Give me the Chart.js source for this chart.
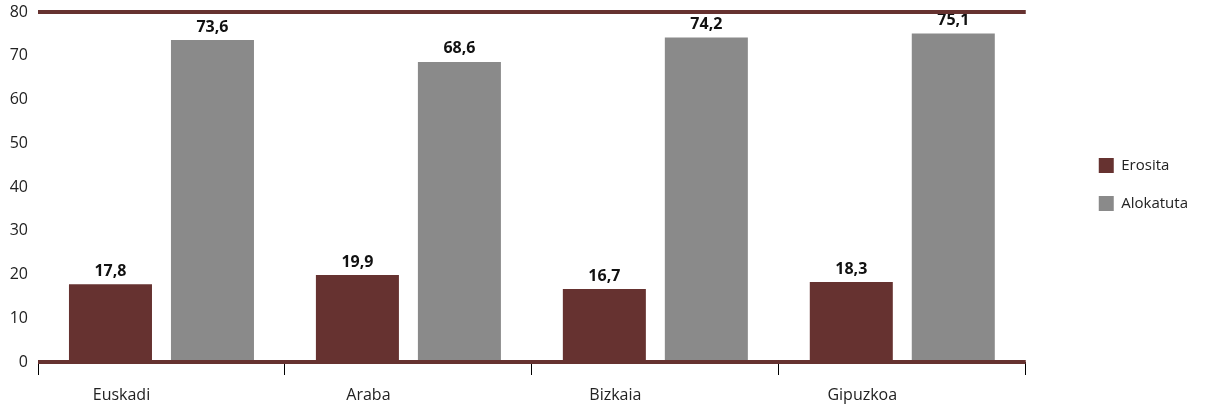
<!DOCTYPE html>
<html>
<head>
<meta charset="utf-8">
<script src="https://cdn.jsdelivr.net/npm/chart.js@4.4.1/dist/chart.umd.min.js"></script>
<style>
  html, body { margin: 0; padding: 0; background: #ffffff; }
  #wrap { width: 1206px; height: 406px; }
</style>
</head>
<body>
<div id="wrap"><canvas id="c" width="1206" height="406"></canvas></div>
<script>
const categories = ["Euskadi", "Araba", "Bizkaia", "Gipuzkoa"];
const erosita = [17.8, 19.9, 16.7, 18.3];
const alokatuta = [73.6, 68.6, 74.2, 75.1];
const seriesNames = ["Erosita", "Alokatuta"];
const yTicks = [0, 10, 20, 30, 40, 50, 60, 70, 80];

const RED = "#663230";
const GREY = "#8a8a8a";
const FONT = "'Open Sans', 'Noto Sans', sans-serif";

const valueLabels = {
  id: "valueLabels",
  afterDatasetsDraw(chart) {
    const ctx = chart.ctx;
    ctx.save();
    ctx.font = "bold 16px " + FONT;
    ctx.fillStyle = "#111111";
    ctx.textAlign = "center";
    ctx.textBaseline = "bottom";
    chart.data.datasets.forEach((ds, i) => {
      const meta = chart.getDatasetMeta(i);
      meta.data.forEach((bar, j) => {
        ctx.fillText(ds.data[j].toFixed(1).replace(".", ","), bar.x, bar.y - 5);
      });
    });
    ctx.restore();
  }
};

new Chart(document.getElementById("c"), {
  type: "bar",
  data: {
    labels: categories,
    datasets: [
      { label: seriesNames[0], data: erosita, backgroundColor: RED, categoryPercentage: 0.826, barPercentage: 0.814 },
      { label: seriesNames[1], data: alokatuta, backgroundColor: GREY, categoryPercentage: 0.826, barPercentage: 0.814 }
    ]
  },
  options: {
    responsive: false,
    animation: false,
    layout: { padding: { left: 0, top: 12, right: 8, bottom: 0 } },
    scales: {
      x: {
        grid: { display: true, drawOnChartArea: false, drawTicks: true, tickLength: 13, color: "#000000", lineWidth: 1 },
        border: { display: false },
        ticks: { color: "#222222", font: { family: FONT, size: 16 }, padding: 11, labelOffset: -40 },
        afterFit: (s) => { s.height = 44; s.paddingLeft = 0; s.paddingRight = 0; }
      },
      y: {
        min: 0, max: 80,
        afterBuildTicks: (s) => { s.ticks = yTicks.map(v => ({ value: v })); },
        grid: {
          z: 1,
          drawTicks: false,
          color: (c) => (c.tick && (c.tick.value === 0 || c.tick.value === 80)) ? RED : "rgba(0,0,0,0)",
          lineWidth: (c) => (c.tick && (c.tick.value === 0 || c.tick.value === 80)) ? 4 : 0
        },
        border: { display: false },
        ticks: { color: "#222222", font: { family: FONT, size: 16 }, padding: 10 },
        afterFit: (s) => { s.width = 38; s.paddingTop = 0; s.paddingBottom = 0; }
      },
      spacer: {
        position: "right",
        display: true,
        grid: { display: false },
        border: { display: false },
        ticks: { display: false },
        afterFit: (s) => { s.width = 50; }
      }
    },
    plugins: {
      legend: {
        position: "right",
        align: "start",
        title: { display: true, text: "", font: { size: 10 }, padding: { top: 111, bottom: 0 } },
        labels: {
          boxWidth: 15, boxHeight: 15, padding: 23,
          color: "#222222",
          font: { family: FONT, size: 15 }
        }
      },
      tooltip: { enabled: false }
    }
  },
  plugins: [valueLabels]
});
</script>
</body>
</html>
